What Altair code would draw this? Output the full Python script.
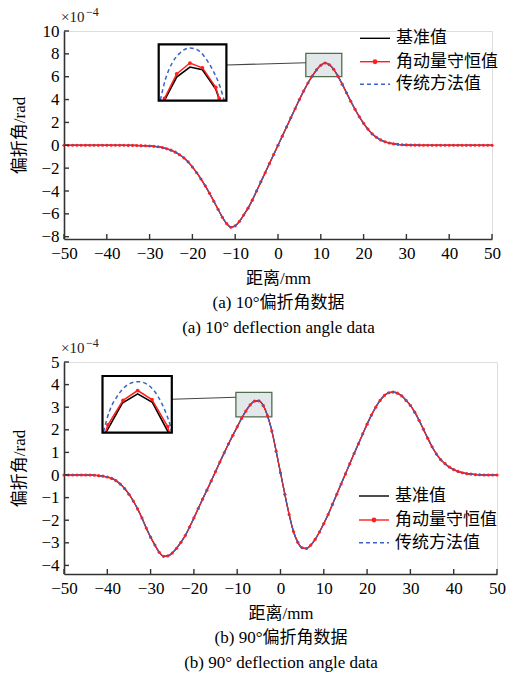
import altair as alt
import pandas as pd

# ---------------- data ----------------
X_MM = list(range(-50, 51))

# panel (a): 10 deg deflection angle, unit 1e-4 rad, x = -50..50 mm step 1
P1_BASE = [
    0, 0, 0, 0, 0, 0, 0, 0, 0, 0,
    0, 0, 0, 0, 0, -0.01, -0.01, -0.02, -0.03, -0.04,
    -0.06, -0.09, -0.13, -0.2, -0.3, -0.43, -0.6, -0.83, -1.1, -1.45,
    -1.9, -2.4, -2.95, -3.55, -4.2, -4.9, -5.6, -6.3, -6.85, -7.17,
    -7.05, -6.65, -6.1, -5.5, -4.8, -4.0, -3.2, -2.4, -1.6, -0.8,
    0.0,
    0.8, 1.6, 2.4, 3.2, 4.0, 4.75, 5.45, 6.05, 6.6, 7.0,
    7.2, 7.05, 6.65, 6.05, 5.35, 4.6, 3.85, 3.15, 2.5, 1.92,
    1.42, 1.0, 0.7, 0.47, 0.31, 0.2, 0.13, 0.08, 0.05, 0.03,
    0.02, 0.01, 0.01, 0, 0, 0, 0, 0, 0, 0,
    0, 0, 0, 0, 0, 0, 0, 0, 0, 0,
]
# panel (b): 90 deg deflection angle
P2_BASE = [
    0, 0, 0, 0, 0, 0, 0, -0.01, -0.03, -0.05,
    -0.09, -0.15, -0.25, -0.4, -0.6, -0.85, -1.15, -1.5, -1.9, -2.35,
    -2.75, -3.1, -3.42, -3.6, -3.58, -3.45, -3.24, -2.98, -2.68, -2.3,
    -1.9, -1.48, -1.07, -0.67, -0.26, 0.15, 0.57, 0.98, 1.38, 1.76,
    2.13, 2.5, 2.83, 3.1, 3.27, 3.28, 3.08, 2.62, 1.95, 1.05,
    0.1,
    -0.85, -1.75, -2.5, -2.98, -3.22, -3.25, -3.1, -2.85, -2.52, -2.15,
    -1.75, -1.3, -0.85, -0.4, 0.05, 0.5, 0.95, 1.38, 1.82, 2.25,
    2.65, 3.0, 3.3, 3.52, 3.64, 3.67, 3.62, 3.5, 3.3, 3.08,
    2.78, 2.42, 2.03, 1.63, 1.25, 0.93, 0.68, 0.5, 0.35, 0.24,
    0.16, 0.1, 0.06, 0.04, 0.02, 0.01, 0, 0, 0, 0,
]

# magnified insets (peak region)
P1_IN_BLACK_X = [9.03, 9.98, 11.0, 11.96, 12.98, 13.29]
P1_IN_BLACK_Y = [6.9, 7.109, 7.198, 7.174, 7.004, 6.9]
P1_IN_RED_X = [9.05, 9.98, 11.0, 11.96, 12.98, 13.25]
P1_IN_RED_Y = [6.92, 7.138, 7.234, 7.192, 7.019, 6.92]
P1_IN_RED_MARK = [True, True, True, True, True, True]
P1_IN_BLUE_X = [8.725, 9.12, 9.64, 10.16, 11.008, 11.72, 12.24, 12.76, 13.28, 13.623]
P1_IN_BLUE_Y = [6.906, 7.09, 7.235, 7.315, 7.368, 7.34, 7.27, 7.17, 7.035, 6.905]

P2_IN_BLACK_X = [-7.945, -6.71, -5.56, -4.46, -3.25]
P2_IN_BLACK_Y = [3.0, 3.262, 3.343, 3.268, 3.0]
P2_IN_RED_X = [-7.99, -7.79, -6.66, -5.56, -4.49, -3.31, -3.18]
P2_IN_RED_Y = [3.0, 3.069, 3.286, 3.372, 3.292, 3.054, 3.0]
P2_IN_RED_MARK = [False, True, True, True, True, True, False]
P2_IN_BLUE_X = [-8.122, -7.68, -7.16, -6.64, -6.12, -5.486, -4.82, -4.3, -3.78, -3.364, -3.13, -3.026]
P2_IN_BLUE_Y = [3.009, 3.19, 3.31, 3.39, 3.435, 3.45, 3.425, 3.365, 3.265, 3.15, 3.068, 3.015]

SERIES = ["基准值", "角动量守恒值", "传统方法值"]
X_TICKS = list(range(-50, 51, 10))
P1_Y_TICKS = list(range(-8, 11, 2))
P2_Y_TICKS = list(range(-4, 6))
CAPTION_A = ["距离/mm", "(a) 10°偏折角数据", "(a) 10° deflection angle data"]
CAPTION_B = ["距离/mm", "(b) 90°偏折角数据", "(b) 90° deflection angle data"]
Y_TITLE = "偏折角/rad"
EXP_BASE, EXP_POW = "×10", "−4"

# ---------------- styling / layout ----------------
SERIF = "Liberation Serif, Noto Sans CJK SC"
CJK = "Noto Sans CJK SC"
BLACK, RED, BLUE = "#000000", "#ff1f1f", "#3a62c6"
AXC = "#333333"

P1 = dict(base=P1_BASE, ydom=[-8.2, 10], W=428, H=208, yticks=P1_Y_TICKS, caption=CAPTION_A,
          rect=[6.5, 14.9, 6.0, 8.05], conn=[-12.06, 7.03, 6.5, 7.22],
          inset=dict(xd=[8.6, 13.8], yd=[6.9, 7.4], xr=[94.7, 162.4], yr=[69.7, 13.3],
                     bx=P1_IN_BLACK_X, by=P1_IN_BLACK_Y, rx=P1_IN_RED_X, ry=P1_IN_RED_Y,
                     rm=P1_IN_RED_MARK, ux=P1_IN_BLUE_X, uy=P1_IN_BLUE_Y),
          leg_y=[7.3, 30.7, 53.3], leg_x=[296, 326, 332])
P2 = dict(base=P2_BASE, ydom=[-4.38, 5], W=433, H=212, yticks=P2_Y_TICKS, caption=CAPTION_B,
          rect=[-10.3, -2.0, 2.57, 3.66], conn=[-25.1, 3.35, -10.3, 3.44],
          inset=dict(xd=[-8.2, -3.0], yd=[3.0, 3.5], xr=[38.5, 107.8], yr=[70.7, 14.0],
                     bx=P2_IN_BLACK_X, by=P2_IN_BLACK_Y, rx=P2_IN_RED_X, ry=P2_IN_RED_Y,
                     rm=P2_IN_RED_MARK, ux=P2_IN_BLUE_X, uy=P2_IN_BLUE_Y),
          leg_y=[134, 158, 180.7], leg_x=[295, 325, 331])


def panel(p):
    W, H = p["W"], p["H"]
    ymin, ymax = p["ydom"]
    xs = alt.Scale(domain=[-50, 50], nice=False, zero=False)
    ys = alt.Scale(domain=[ymin, ymax], nice=False, zero=False)
    xaxis = alt.Axis(
        values=X_TICKS, tickCount=len(X_TICKS), ticks=False, grid=False, domainColor=AXC,
        domainWidth=1.6, labelFont=SERIF, labelFontSize=17, labelColor="black", labelPadding=6,
        labelFlush=False, labelOverlap=False,
        title=p["caption"], titleFont=SERIF, titleFontSize=17, titleFontWeight="normal",
        titleColor="black", titlePadding=9, titleLineHeight=24.5)
    yaxis = alt.Axis(
        values=p["yticks"], tickCount=len(p["yticks"]), ticks=False, grid=False, domainColor=AXC,
        domainWidth=1.6, labelFont=SERIF, labelFontSize=17, labelColor="black", labelPadding=5,
        labelOverlap=False,
        title=Y_TITLE, titleFont=SERIF, titleFontSize=17, titleFontWeight="normal",
        titleColor="black", titlePadding=12)

    def X(f):
        return alt.X(f, scale=xs, axis=xaxis)

    def Y(f):
        return alt.Y(f, scale=ys, axis=yaxis)

    df = pd.DataFrame({"x": X_MM, "y": p["base"]})

    rect_df = pd.DataFrame({"x": [p["rect"][0]], "x2": [p["rect"][1]],
                            "y": [p["rect"][2]], "y2": [p["rect"][3]]})
    rect = alt.Chart(rect_df).mark_rect(fill="#e2e7ea", stroke="#4f6f4a", strokeWidth=1.3).encode(
        x=X("x:Q"), x2="x2", y=Y("y:Q"), y2="y2")
    conn_df = pd.DataFrame({"x": [p["conn"][0]], "y": [p["conn"][1]],
                            "x2": [p["conn"][2]], "y2": [p["conn"][3]]})
    conn = alt.Chart(conn_df).mark_rule(color="#444444", strokeWidth=1.1).encode(
        x=X("x:Q"), y=Y("y:Q"), x2="x2", y2="y2")

    black = alt.Chart(df).mark_line(color=BLACK, strokeWidth=1.2, interpolate="monotone").encode(
        x=X("x:Q"), y=Y("y:Q"))
    red = alt.Chart(df).mark_line(color=RED, strokeWidth=1.4, interpolate="monotone").encode(
        x=X("x:Q"), y=Y("y:Q"))
    redpts = alt.Chart(df).mark_circle(color=RED, size=10, opacity=1).encode(x=X("x:Q"), y=Y("y:Q"))
    blue = alt.Chart(df).mark_line(color=BLUE, strokeWidth=1.2, strokeDash=[4, 3],
                                   interpolate="monotone").encode(x=X("x:Q"), y=Y("y:Q"))

    xt = alt.Chart(pd.DataFrame({"x": X_TICKS})).mark_rule(color=AXC, strokeWidth=1.4).encode(
        x=X("x:Q"), y=alt.value(H), y2=alt.value(H - 5))
    yt = alt.Chart(pd.DataFrame({"y": p["yticks"]})).mark_rule(color=AXC, strokeWidth=1.4).encode(
        y=Y("y:Q"), x=alt.value(0), x2=alt.value(5))

    ed = pd.DataFrame({"x": [-50], "y": [ymax]})
    exp1 = alt.Chart(ed).mark_text(text=EXP_BASE, align="left", baseline="alphabetic", dx=-3, dy=-9,
                                   fontSize=15, font=SERIF, color="#222").encode(x=X("x:Q"), y=Y("y:Q"))
    exp2 = alt.Chart(ed).mark_text(text=EXP_POW, align="left", baseline="alphabetic", dx=22, dy=-15,
                                   fontSize=12, font=SERIF, color="#222").encode(x=X("x:Q"), y=Y("y:Q"))

    # legend
    lx0, lx1, ltx = p["leg_x"]
    ly = p["leg_y"]
    leg = []
    styles = [(BLACK, None), (RED, None), (BLUE, [4, 3])]
    for i, name in enumerate(SERIES):
        c, dash = styles[i]
        kw = dict(color=c, strokeWidth=1.4)
        if dash:
            kw["strokeDash"] = dash
        ldf = pd.DataFrame({"s": [name]})
        leg.append(alt.Chart(ldf).mark_rule(**kw).encode(
            x=alt.value(lx0), x2=alt.value(lx1), y=alt.value(ly[i])))
        leg.append(alt.Chart(ldf).mark_text(align="left", baseline="middle", font=CJK, fontSize=17,
                                            color="black").encode(
            x=alt.value(ltx), y=alt.value(ly[i]), text="s:N"))
    leg.append(alt.Chart(pd.DataFrame({"s": [SERIES[1]]})).mark_circle(color=RED, size=24, opacity=1).encode(
        x=alt.value((lx0 + lx1) / 2), y=alt.value(ly[1])))

    main = alt.layer(rect, conn, black, red, redpts, blue, xt, yt, exp1, exp2, *leg)

    ins = p["inset"]
    ixs = alt.Scale(domain=ins["xd"], range=ins["xr"], nice=False, zero=False)
    iys = alt.Scale(domain=ins["yd"], range=ins["yr"], nice=False, zero=False)

    def IX(f):
        return alt.X(f, scale=ixs, axis=None)

    def IY(f):
        return alt.Y(f, scale=iys, axis=None)

    frame_df = pd.DataFrame({"x": [ins["xd"][0]], "x2": [ins["xd"][1]],
                             "y": [ins["yd"][0]], "y2": [ins["yd"][1]]})
    frame_fill = alt.Chart(frame_df).mark_rect(fill="white").encode(
        x=IX("x:Q"), x2="x2", y=IY("y:Q"), y2="y2")
    frame = alt.Chart(frame_df).mark_rect(fill=None, stroke="black", strokeWidth=2.2).encode(
        x=IX("x:Q"), x2="x2", y=IY("y:Q"), y2="y2")
    bdf = pd.DataFrame({"x": ins["bx"], "y": ins["by"]})
    rdf = pd.DataFrame({"x": ins["rx"], "y": ins["ry"], "m": ins["rm"]})
    udf = pd.DataFrame({"x": ins["ux"], "y": ins["uy"]})
    ib = alt.Chart(bdf).mark_line(color=BLACK, strokeWidth=1.6).encode(x=IX("x:Q"), y=IY("y:Q"))
    ir = alt.Chart(rdf).mark_line(color=RED, strokeWidth=1.5).encode(x=IX("x:Q"), y=IY("y:Q"))
    irp = alt.Chart(rdf).transform_filter("datum.m").mark_circle(color=RED, size=14, opacity=1).encode(
        x=IX("x:Q"), y=IY("y:Q"))
    iu = alt.Chart(udf).mark_line(color=BLUE, strokeWidth=1.5, strokeDash=[4, 3],
                                  interpolate="monotone").encode(x=IX("x:Q"), y=IY("y:Q"))
    inset = alt.layer(frame_fill, ib, ir, irp, iu, frame)

    return alt.layer(main, inset).resolve_scale(x="independent", y="independent").properties(
        width=W, height=H)


chart = alt.vconcat(panel(P1), panel(P2), spacing=0).properties(
    padding={"left": 10, "top": 5, "right": 4, "bottom": 2}
).configure_view(stroke=None).configure(background="white")

chart.save("out.html", embed_options={"renderer": "svg", "actions": False})
